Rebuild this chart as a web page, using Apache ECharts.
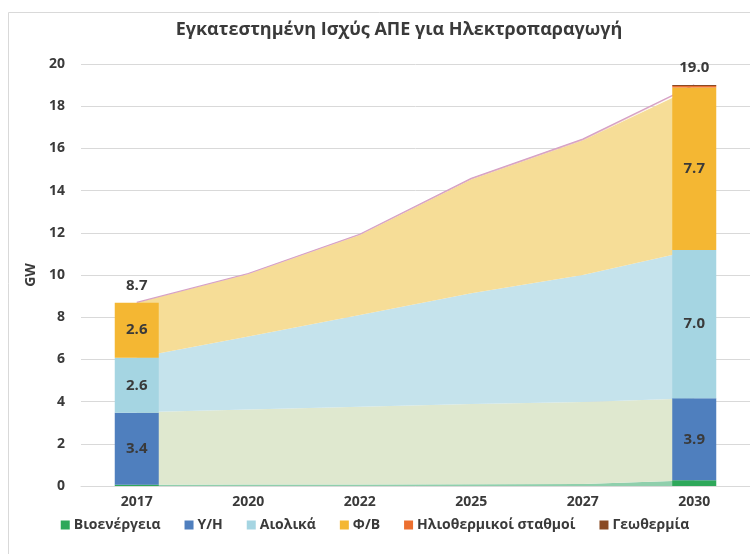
<!DOCTYPE html>
<html><head><meta charset="utf-8">
<script src="https://cdn.jsdelivr.net/npm/echarts@6/dist/echarts.min.js"></script>
<style>html,body{margin:0;padding:0;background:#fff}#c{width:750px;height:554px}</style>
</head><body><div id="c"></div>
<script>
const categories = ['2017','2020','2022','2025','2027','2030'];
// bar values (only 2017 and 2030)
const barBio   = [0.06, '-', '-', '-', '-', 0.27];
const barHydro = [3.41, '-', '-', '-', '-', 3.89];
const barWind  = [2.61, '-', '-', '-', '-', 7.02];
const barPV    = [2.61, '-', '-', '-', '-', 7.71];
const barCSP   = ['-', '-', '-', '-', '-', 0.07];
const barGeo   = ['-', '-', '-', '-', '-', 0.05];
const totals   = [8.7, '-', '-', '-', '-', 19.0];
// area values (all years)
const areaBio   = [0.06, 0.07, 0.07, 0.08, 0.10, 0.27];
const areaHydro = [3.43, 3.56, 3.69, 3.81, 3.88, 3.89];
const areaWind  = [2.60, 3.45, 4.34, 5.24, 6.02, 7.02];
const areaPV    = [2.61, 2.97, 3.80, 5.40, 6.37, 7.71];
const areaCSP   = [0.00, 0.01, 0.02, 0.03, 0.04, 0.07];
const areaGeo   = [0.00, 0.01, 0.01, 0.02, 0.03, 0.05];
const yTicks = [0, 2, 4, 6, 8, 10, 12, 14, 16, 18, 20];

const names = ['Βιοενέργεια','Υ/Η','Αιολικά','Φ/Β','Ηλιοθερμικοί σταθμοί','Γεωθερμία'];
const barColors = ['#2ea85a','#4f7fbe','#a5d5e2','#f4b733','#ec6f2f','#8a4a24'];
const areaColors = ['#8fcfac','#dfe8cf','#c5e3ec','#f6dd97','#e9b8a8','#d7a7c0'];
const barData = [barBio, barHydro, barWind, barPV, barCSP, barGeo];
const areaData = [areaBio, areaHydro, areaWind, areaPV, areaCSP, areaGeo];
const FONT = 'Open Sans';
const TXT = '#3a3a3a';

const series = [];
areaData.forEach((d, i) => {
  series.push({
    name: 'area_' + i, type: 'line', stack: 'area', data: d,
    symbol: 'none', z: 2, silent: true,
    lineStyle: i === 5 ? {width: 1.2, color: '#d6a2c6'} : {width: 0},
    areaStyle: {color: areaColors[i], opacity: 1}
  });
});
barData.forEach((d, i) => {
  const lab = (i >= 1 && i <= 3);
  series.push({
    name: names[i], type: 'bar', stack: 'bar', data: d, barWidth: 44, z: 3,
    itemStyle: {color: barColors[i]},
    label: {show: lab, position: 'inside', color: TXT, fontFamily: FONT, fontWeight: 'bold', fontSize: 15,
      formatter: p => Number(p.value).toFixed(1)}
  });
});
series.push({
  name: 'total', type: 'scatter', data: totals, symbolSize: 1, z: 4,
  itemStyle: {color: 'rgba(0,0,0,0)', opacity: 1},
  label: {show: true, position: 'top', distance: 9, color: TXT, opacity: 1, fontFamily: FONT, fontWeight: 'bold', fontSize: 15,
    formatter: p => Number(p.value).toFixed(1)}
});

const chart = echarts.init(document.getElementById('c'));
chart.setOption({
  animation: false,
  textStyle: {fontFamily: FONT},
  graphic: [{type: 'rect', shape: {x: 8.5, y: 12.5, width: 800, height: 600}, style: {fill: 'none', stroke: '#d9d9d9', lineWidth: 1}, silent: true}],
  title: {text: 'Εγκατεστημένη Ισχύς ΑΠΕ για Ηλεκτροπαραγωγή', left: 394, textAlign: 'center', top: 16,
    textStyle: {fontFamily: FONT, fontSize: 18, fontWeight: 'bold', color: TXT}},
  legend: {data: names, top: 513, left: 'center', icon: 'rect', itemWidth: 9, itemHeight: 9, itemGap: 24,
    textStyle: {fontFamily: FONT, fontSize: 14, fontWeight: 'bold', color: TXT, padding: [0,0,0,-1]}},
  grid: {left: 81, right: 0, top: 64, bottom: 68},
  xAxis: {type: 'category', data: categories,
    axisLine: {lineStyle: {color: '#d9d9d9'}}, axisTick: {show: false},
    axisLabel: {color: TXT, fontFamily: FONT, fontWeight: 'bold', fontSize: 14, margin: 9}},
  yAxis: {type: 'value', min: yTicks[0], max: yTicks[yTicks.length-1], interval: 2,
    name: 'GW', nameLocation: 'middle', nameGap: 31, nameRotate: 90,
    nameTextStyle: {color: TXT, fontFamily: FONT, fontWeight: 'bold', fontSize: 14},
    axisLabel: {color: TXT, fontFamily: FONT, fontWeight: 'bold', fontSize: 14, margin: 16},
    splitLine: {lineStyle: {color: '#d9d9d9'}}},
  series: series
});
</script></body></html>
